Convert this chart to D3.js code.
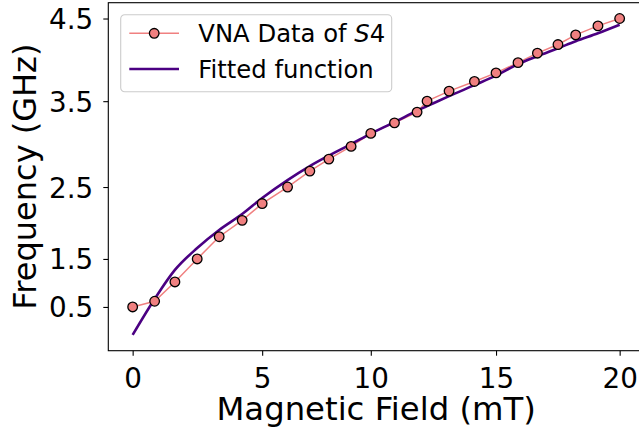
<!DOCTYPE html>
<html>
<head>
<meta charset="utf-8">
<script src="https://cdn.jsdelivr.net/npm/d3@7"></script>
<style>
body { margin: 0; background: #fff; }
svg { display: block; font-family: "DejaVu Sans", sans-serif; }
</style>
</head>
<body>
<div id="chart"></div>
<script>
// magnetic field (mT) and measured / fitted resonance frequency
var fieldValues = [0, 0.903, 1.736, 2.651, 3.554, 4.498, 5.319, 6.362, 7.277, 8.057, 8.972, 9.780,
    10.753, 11.681, 12.091, 12.994, 14.036, 14.923, 15.826, 16.622, 17.467, 18.194, 19.109, 20];
var measuredFreq = [1.063, 1.131, 1.361, 1.635, 1.900, 2.095, 2.295, 2.492, 2.682, 2.825, 2.976, 3.131,
    3.257, 3.385, 3.515, 3.635, 3.750, 3.852, 3.974, 4.087, 4.190, 4.305, 4.412, 4.500];
var fittedFreq = [0.730, 1.158, 1.504, 1.765, 1.980, 2.170, 2.361, 2.575, 2.742, 2.867, 3.004, 3.129,
    3.265, 3.402, 3.456, 3.575, 3.706, 3.819, 3.956, 4.051, 4.146, 4.230, 4.325, 4.426];

var xTickValues = [0, 5.319, 9.780, 14.923, 20];
var xTickLabels = ["0", "5", "10", "15", "20"];
var yTickValues = [1.063, 1.635, 2.492, 3.515, 4.5];
var yTickLabels = ["0.5", "1.5", "2.5", "3.5", "4.5"];

var seriesNames = ["VNA Data of ", "Fitted function"];

function drawChart() {
    var width = 639, height = 433;
    var plot = {left: 108.3, right: 644, top: 2.7, bottom: 350.7};

    var svg = d3.select("#chart").append("svg")
        .attr("width", width)
        .attr("height", height);

    var xMin = d3.min(fieldValues), xMax = d3.max(fieldValues);
    var xPad = (xMax - xMin) * 0.05;
    var x = d3.scaleLinear()
        .domain([xMin - xPad, xMax + xPad])
        .range([plot.left, plot.right]);

    var allY = measuredFreq.concat(fittedFreq);
    var yMin = d3.min(allY), yMax = d3.max(allY);
    var yPad = (yMax - yMin) * 0.05;
    var y = d3.scaleLinear()
        .domain([yMin - yPad, yMax + yPad])
        .range([plot.bottom, plot.top]);

    var measured = fieldValues.map(function(f, i) { return {x: f, y: measuredFreq[i]}; });
    var fitted = fieldValues.map(function(f, i) { return {x: f, y: fittedFreq[i]}; });

    var line = d3.line()
        .x(function(d) { return x(d.x); })
        .y(function(d) { return y(d.y); });

    // data line + markers
    svg.append("path")
        .datum(measured)
        .attr("d", line)
        .attr("fill", "none")
        .attr("stroke", "#f08080")
        .attr("stroke-width", 1.5);

    svg.append("path")
        .datum(fitted)
        .attr("d", line.curve(d3.curveMonotoneX))
        .attr("fill", "none")
        .attr("stroke", "#4b0082")
        .attr("stroke-width", 2.6)
        .attr("stroke-linejoin", "round");

    svg.selectAll(".pt")
        .data(measured)
        .enter().append("circle")
        .attr("class", "pt")
        .attr("cx", function(d) { return x(d.x); })
        .attr("cy", function(d) { return y(d.y); })
        .attr("r", 4.8)
        .attr("fill", "#f08080")
        .attr("stroke", "#000")
        .attr("stroke-width", 1.3);

    // axes
    var xAxis = svg.append("g")
        .attr("transform", "translate(0," + plot.bottom + ")")
        .call(d3.axisBottom(x)
            .tickValues(xTickValues)
            .tickFormat(function(d, i) { return xTickLabels[i]; })
            .tickSize(5)
            .tickSizeOuter(0)
            .tickPadding(13));
    xAxis.select(".domain").remove();
    xAxis.selectAll("line").attr("stroke-width", 1.1);
    xAxis.selectAll("text")
        .attr("fill", "#000")
        .style("font-family", "DejaVu Sans")
        .style("font-size", "27.8px");

    var yAxis = svg.append("g")
        .attr("transform", "translate(" + plot.left + ",0)")
        .call(d3.axisLeft(y)
            .tickValues(yTickValues)
            .tickFormat(function(d, i) { return yTickLabels[i]; })
            .tickSize(5)
            .tickSizeOuter(0)
            .tickPadding(10));
    yAxis.select(".domain").remove();
    yAxis.selectAll("line").attr("stroke-width", 1.1);
    yAxis.selectAll("text")
        .attr("fill", "#000")
        .attr("dy", "0.36em")
        .style("font-family", "DejaVu Sans")
        .style("font-size", "27.8px");

    // spines (right one falls outside the picture)
    svg.append("rect")
        .attr("x", plot.left)
        .attr("y", plot.top)
        .attr("width", plot.right - plot.left)
        .attr("height", plot.bottom - plot.top)
        .attr("fill", "none")
        .attr("stroke", "#000")
        .attr("stroke-width", 1.1);

    svg.append("text")
        .attr("x", (plot.left + plot.right) / 2)
        .attr("y", 419.5)
        .attr("text-anchor", "middle")
        .style("font-size", "32.3px")
        .text("Magnetic Field (mT)");

    svg.append("text")
        .attr("transform", "translate(35.5," + (plot.top + plot.bottom) / 2 + ") rotate(-90)")
        .attr("text-anchor", "middle")
        .style("font-size", "32px")
        .text("Frequency (GHz)");

    // legend
    var legend = svg.append("g").attr("transform", "translate(120.7,14.7)");
    legend.append("rect")
        .attr("width", 271)
        .attr("height", 77)
        .attr("rx", 4)
        .attr("fill", "#fff")
        .attr("fill-opacity", 0.8)
        .attr("stroke", "#cccccc")
        .attr("stroke-width", 1.1);

    legend.append("line")
        .attr("x1", 8.6).attr("x2", 58.3)
        .attr("y1", 18.6).attr("y2", 18.6)
        .attr("stroke", "#f08080")
        .attr("stroke-width", 1.5);
    legend.append("circle")
        .attr("cx", 33.5).attr("cy", 18.6)
        .attr("r", 4.8)
        .attr("fill", "#f08080")
        .attr("stroke", "#000")
        .attr("stroke-width", 1.3);
    var t1 = legend.append("text")
        .attr("x", 77.6)
        .attr("y", 27)
        .style("font-size", "24.3px")
        .text(seriesNames[0]);
    t1.append("tspan").style("font-style", "italic").text("S");
    t1.append("tspan").text("4");

    legend.append("line")
        .attr("x1", 8.6).attr("x2", 58.3)
        .attr("y1", 54.3).attr("y2", 54.3)
        .attr("stroke", "#4b0082")
        .attr("stroke-width", 2.6);
    legend.append("text")
        .attr("x", 77.6)
        .attr("y", 63)
        .style("font-size", "24.3px")
        .text(seriesNames[1]);
}

drawChart();
</script>
</body>
</html>
